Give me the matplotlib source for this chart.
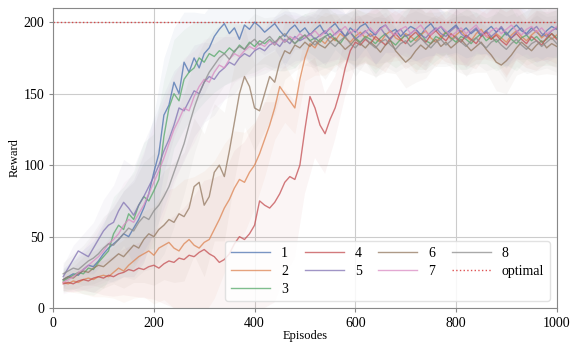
import numpy as np
import matplotlib
matplotlib.use('Agg')
import matplotlib.pyplot as plt

plt.rcParams['font.family'] = ['Liberation Serif', 'DejaVu Serif']

episodes = list(range(20, 1001, 10))

reward_1 = [20, 22, 24, 23, 27, 30, 29, 33, 38, 42,
            45, 48, 52, 50, 56, 62, 70, 80, 95, 108,
            135, 142, 158, 150, 172, 165, 175, 168, 178, 182,
            190, 195, 199, 192, 196, 188, 198, 195, 200, 197,
            193, 196, 199, 194, 190, 195, 198, 193, 196, 191,
            195, 198, 192, 196, 199, 194, 190, 196, 193, 197,
            199, 194, 191, 196, 198, 193, 195, 190, 194, 197,
            195, 191, 196, 199, 194, 197, 192, 195, 198, 193,
            196, 192, 195, 190, 194, 197, 193, 196, 191, 195,
            198, 194, 192, 196, 193, 190, 194, 197, 195]
reward_2 = [18, 17, 19, 18, 20, 21, 20, 22, 23, 22,
            25, 28, 26, 30, 33, 36, 38, 40, 37, 42,
            44, 46, 42, 40, 45, 48, 44, 42, 46, 48,
            55, 62, 70, 76, 84, 90, 88, 95, 100, 108,
            118, 128, 140, 155, 150, 145, 140, 160, 175, 185,
            182, 188, 185, 190, 187, 192, 189, 186, 190, 193,
            189, 192, 188, 186, 191, 194, 189, 187, 192, 190,
            187, 191, 194, 189, 186, 190, 193, 188, 191, 194,
            190, 187, 192, 195, 190, 188, 192, 189, 186, 191,
            194, 190, 187, 191, 194, 189, 192, 188, 191]
reward_3 = [19, 21, 23, 25, 24, 28, 27, 32, 36, 40,
            52, 58, 55, 66, 62, 72, 78, 75, 82, 90,
            120, 140, 150, 145, 160, 165, 168, 175, 172, 178,
            176, 180, 178, 182, 179, 184, 181, 186, 183, 187,
            185, 188, 184, 190, 186, 189, 185, 188, 191, 187,
            189, 186, 190, 192, 188, 185, 190, 193, 189, 186,
            190, 188, 185, 189, 192, 187, 184, 188, 191, 186,
            189, 192, 187, 185, 190, 188, 193, 189, 186, 190,
            188, 185, 189, 192, 187, 190, 186, 189, 193, 188,
            185, 189, 191, 187, 190, 186, 188, 192, 189]
reward_4 = [17, 18, 17, 19, 20, 19, 21, 22, 21, 23,
            22, 24, 25, 27, 26, 28, 27, 29, 30, 28,
            31, 33, 32, 35, 34, 37, 36, 39, 41, 38,
            36, 32, 34, 38, 45, 50, 48, 52, 58, 75,
            72, 70, 74, 80, 88, 92, 90, 100, 125, 148,
            140, 128, 122, 132, 140, 152, 168, 180, 186, 184,
            188, 185, 190, 187, 184, 189, 192, 188, 185, 190,
            193, 189, 186, 191, 194, 190, 187, 192, 189, 186,
            191, 188, 185, 190, 193, 188, 191, 187, 184, 189,
            192, 188, 185, 190, 187, 184, 189, 192, 188]
reward_5 = [22, 28, 34, 40, 38, 36, 42, 48, 54, 58,
            60, 68, 74, 70, 65, 72, 78, 85, 92, 100,
            110, 118, 128, 140, 138, 145, 152, 150, 158, 162,
            160, 165, 168, 172, 170, 175, 178, 176, 180, 182,
            180, 184, 186, 183, 188, 185, 190, 187, 189, 192,
            188, 191, 194, 189, 192, 195, 190, 193, 188, 191,
            194, 190, 192, 196, 191, 188, 193, 195, 190, 192,
            195, 191, 189, 193, 196, 192, 190, 194, 197, 192,
            189, 193, 196, 191, 194, 190, 193, 197, 192, 189,
            193, 196, 191, 194, 197, 192, 190, 194, 196]
reward_6 = [20, 22, 21, 24, 26, 25, 28, 30, 29, 32,
            35, 38, 36, 40, 44, 42, 48, 52, 50, 55,
            58, 62, 60, 66, 64, 70, 85, 88, 72, 78,
            95, 100, 92, 110, 130, 150, 162, 155, 140, 138,
            150, 162, 158, 172, 180, 178, 184, 182, 186, 183,
            187, 184, 182, 186, 189, 185, 181, 184, 188, 185,
            182, 186, 183, 179, 184, 187, 180, 176, 172, 175,
            180, 184, 181, 185, 188, 183, 186, 182, 185, 188,
            184, 180, 183, 186, 181, 177, 172, 170, 173, 177,
            182, 186, 183, 180, 184, 187, 182, 185, 183]
reward_7 = [18, 20, 22, 25, 27, 30, 33, 36, 40, 45,
            48, 52, 58, 62, 60, 66, 72, 80, 88, 96,
            105, 115, 125, 132, 140, 138, 148, 155, 160, 158,
            165, 170, 168, 174, 178, 176, 180, 183, 181, 185,
            183, 187, 184, 189, 186, 190, 188, 192, 189, 191,
            194, 190, 193, 196, 191, 194, 197, 192, 195, 190,
            193, 196, 192, 195, 198, 193, 191, 195, 197, 192,
            195, 198, 193, 191, 195, 197, 194, 190, 193, 196,
            192, 195, 198, 193, 190, 194, 196, 192, 195, 198,
            194, 191, 195, 197, 193, 196, 192, 194, 197]
reward_8 = [24, 26, 28, 27, 30, 33, 35, 38, 42, 45,
            44, 48, 52, 56, 54, 60, 64, 62, 68, 72,
            78, 85, 95, 105, 115, 128, 140, 150, 158, 165,
            170, 175, 178, 174, 180, 183, 181, 185, 188, 184,
            187, 190, 186, 189, 192, 188, 185, 189, 191, 187,
            184, 188, 190, 186, 183, 187, 190, 185, 182, 186,
            189, 185, 182, 186, 188, 184, 181, 185, 187, 183,
            186, 189, 185, 182, 186, 188, 184, 187, 190, 186,
            183, 187, 189, 185, 182, 186, 188, 184, 181, 185,
            188, 184, 181, 185, 187, 183, 186, 189, 185]

# std bands, every 20 episodes
spread_fast = [8, 10, 14, 18, 22, 26, 30, 34, 38, 40,
               40, 38, 35, 32, 28, 25, 22, 20, 18, 18,
               16, 18, 20, 17, 15, 19, 22, 18, 16, 20,
               17, 21, 19, 16, 18, 22, 20, 17, 15, 19,
               21, 18, 16, 20, 23, 19, 17, 21, 18, 20]
spread_mid = [6, 8, 10, 12, 15, 18, 22, 26, 30, 34,
              38, 42, 45, 48, 50, 48, 45, 40, 35, 30,
              26, 22, 20, 18, 16, 19, 22, 18, 16, 20,
              17, 21, 19, 16, 18, 22, 20, 17, 15, 19,
              21, 18, 16, 20, 23, 19, 17, 21, 18, 20]
spread_slow = [5, 6, 8, 10, 12, 14, 16, 18, 20, 24,
               28, 32, 36, 42, 48, 55, 60, 65, 68, 70,
               72, 70, 65, 55, 45, 35, 28, 22, 20, 18,
               17, 21, 19, 16, 18, 22, 20, 17, 15, 19,
               21, 18, 16, 20, 23, 19, 17, 21, 18, 20]

labels = ['1', '2', '3', '4', '5', '6', '7', '8']
rewards = [reward_1, reward_2, reward_3, reward_4, reward_5, reward_6, reward_7, reward_8]
spreads = [spread_fast, spread_mid, spread_fast, spread_slow, spread_fast, spread_mid, spread_fast, spread_fast]
colors = ['#4C72B0', '#DD8452', '#55A868', '#C44E52', '#8172B3', '#937860', '#DA8BC3', '#8C8C8C']
optimal = 200

x = np.array(episodes)
fig = plt.figure(figsize=(5.71, 3.42), dpi=100)
ax = fig.add_axes([0.093, 0.099, 0.882, 0.878])

for lab, r, s, c in zip(labels, rewards, spreads, colors):
    r = np.array(r)
    s = np.array(s)
    ax.fill_between(x[::2], r[::2] - s, r[::2] + s, color=c, alpha=0.055, linewidth=0)
    ax.plot(x, r, color=c, lw=1.0, alpha=0.75, label=lab)

ax.axhline(optimal, color='#d62728', ls=':', lw=1.0, alpha=0.8, label='optimal')

ax.set_xlim(0, 1000)
ax.set_ylim(0, 210)
ax.set_xticks([0, 200, 400, 600, 800, 1000])
ax.set_yticks([0, 50, 100, 150, 200])
ax.grid(True, color='#cccccc', lw=0.8)
ax.set_axisbelow(True)
for sp in ax.spines.values():
    sp.set_color('#888888')
ax.tick_params(labelsize=10, length=3, color='#888888')
ax.set_xlabel('Episodes', fontsize=9, labelpad=0)
ax.set_ylabel('Reward', fontsize=9, labelpad=2)

leg = ax.legend(ncol=4, loc='lower right', fontsize=10, handlelength=2.8,
                columnspacing=1.2, labelspacing=0.35, borderpad=0.4, framealpha=0.85)
leg.get_frame().set_edgecolor('#dddddd')

fig.savefig('out.png', dpi=100)
